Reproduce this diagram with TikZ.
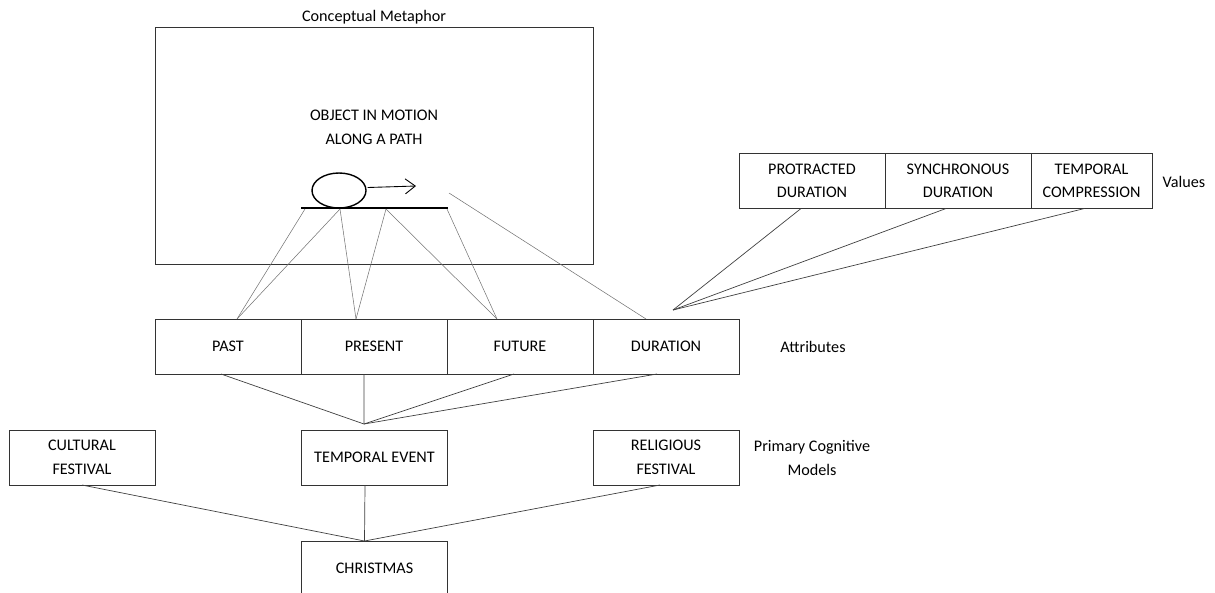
\documentclass[tikz,border=0pt]{standalone}
\usepackage{fontspec}
\setmainfont{Carlito}
\usetikzlibrary{arrows.meta, shapes.geometric}
\usetikzlibrary{positioning}

\begin{document}
\begin{tikzpicture}[x=0.2mm,y=-0.2mm,
		box/.style={draw=black!80, line width=0.5pt, minimum width=29.2mm, minimum height=11mm, inner sep=0pt, outer sep=0pt, align=center, font=\fontsize{9.2}{13.4}\selectfont},
		lbl/.style={align=center, inner sep=0pt, font=\fontsize{9.2}{13.4}\selectfont},
		link/.style={draw=black!75, line width=0.4pt},
		map/.style={draw=black!55, line width=0.3pt}]
				\useasboundingbox (0,0) rectangle (1215,592);
				\node[lbl] (title) at (374,17) {Conceptual Metaphor};
				\node[box, minimum width=87.6mm, minimum height=47.4mm] (frame) at (374,145.5) {};
				\node[lbl] (objtext) at (374,127.5) {OBJECT IN MOTION\\ALONG A PATH};
				\node[draw, ellipse, line width=0.8pt, minimum width=10.8mm, minimum height=7mm, inner sep=0pt] (obj) at (339,190.5) {};
				\coordinate (tip) at (416,186);
				\draw[line width=0.5pt, -{Straight Barb[length=2mm, width=3mm]}] (obj.east) ++(1,-3) -- (tip);
				\coordinate (pathL) at (301,208);
				\coordinate (pathR) at (448,208);
				\draw[line width=1pt] (pathL) -- (pathR);
				\coordinate (p1) at (305,209);
				\coordinate (p2) at (340,209);
				\coordinate (p3) at (386,209);
				\coordinate (p4) at (447,209);
				\coordinate (dstart) at (449,193);

				\node[box] (past) at (228,346.5) {PAST};
				\node[box, right=0pt of past] (present) {PRESENT};
				\node[box, right=0pt of present] (future) {FUTURE};
				\node[box, right=0pt of future] (duration) {DURATION};
				\node[lbl] (attr) at (813,347) {Attributes};

				\draw[map] (p1) -- ([xshift=1.8mm]past.north);
				\draw[map] (p2) -- ([xshift=1.8mm]past.north);
				\draw[map] (p2) -- ([xshift=-3.6mm]present.north);
				\draw[map] (p3) -- ([xshift=-3.6mm]present.north);
				\draw[map] (p3) -- ([xshift=-4.6mm]future.north);
				\draw[map] (p4) -- ([xshift=-4.6mm]future.north);
				\draw[map] (dstart) -- ([xshift=-4mm]duration.north);

				\node[box] (protracted) at (812,181) {PROTRACTED\\DURATION};
				\node[box, right=0pt of protracted] (synchronous) {SYNCHRONOUS\\DURATION};
				\node[box, minimum width=24.2mm, right=0pt of synchronous] (compression) {TEMPORAL\\COMPRESSION};
				\node[lbl] (values) at (1184,182) {Values};
				\coordinate (vmeet) at (673,310);
				\draw[link] ([xshift=-2.2mm]protracted.south) -- (vmeet);
				\draw[link] ([xshift=-2.4mm]synchronous.south) -- (vmeet);
				\draw[link] ([xshift=-1.4mm]compression.south) -- (vmeet);

				\node[box] (cultural) at (82,457.5) {CULTURAL\\FESTIVAL};
				\node[box] (tempev) at (374.5,457.5) {TEMPORAL EVENT};
				\node[box] (religious) at (666,457.5) {RELIGIOUS\\FESTIVAL};
				\node[lbl] (pcm) at (812,458) {Primary Cognitive\\Models};
				\coordinate (ameet) at (364,424);
				\draw[link] ([xshift=-1.4mm]past.south) -- (ameet);
				\draw[link] ([xshift=-2mm]present.south) -- (ameet);
				\draw[link] ([xshift=-1.2mm]future.south) -- (ameet);
				\draw[link] ([xshift=-1.8mm]duration.south) -- (ameet);

				\node[box, minimum height=11.8mm] (christmas) at (374.5,570.5) {};
				\node[lbl] (xmas) at (374.5,568) {CHRISTMAS};
				\draw[link] (cultural.south) -- ([xshift=-2mm]christmas.north);
				\draw[link] ([xshift=-1.9mm]tempev.south) -- ([xshift=-2mm]christmas.north);
				\draw[link] ([xshift=-1.2mm]religious.south) -- ([xshift=-2mm]christmas.north);
			\end{tikzpicture}
\end{document}
